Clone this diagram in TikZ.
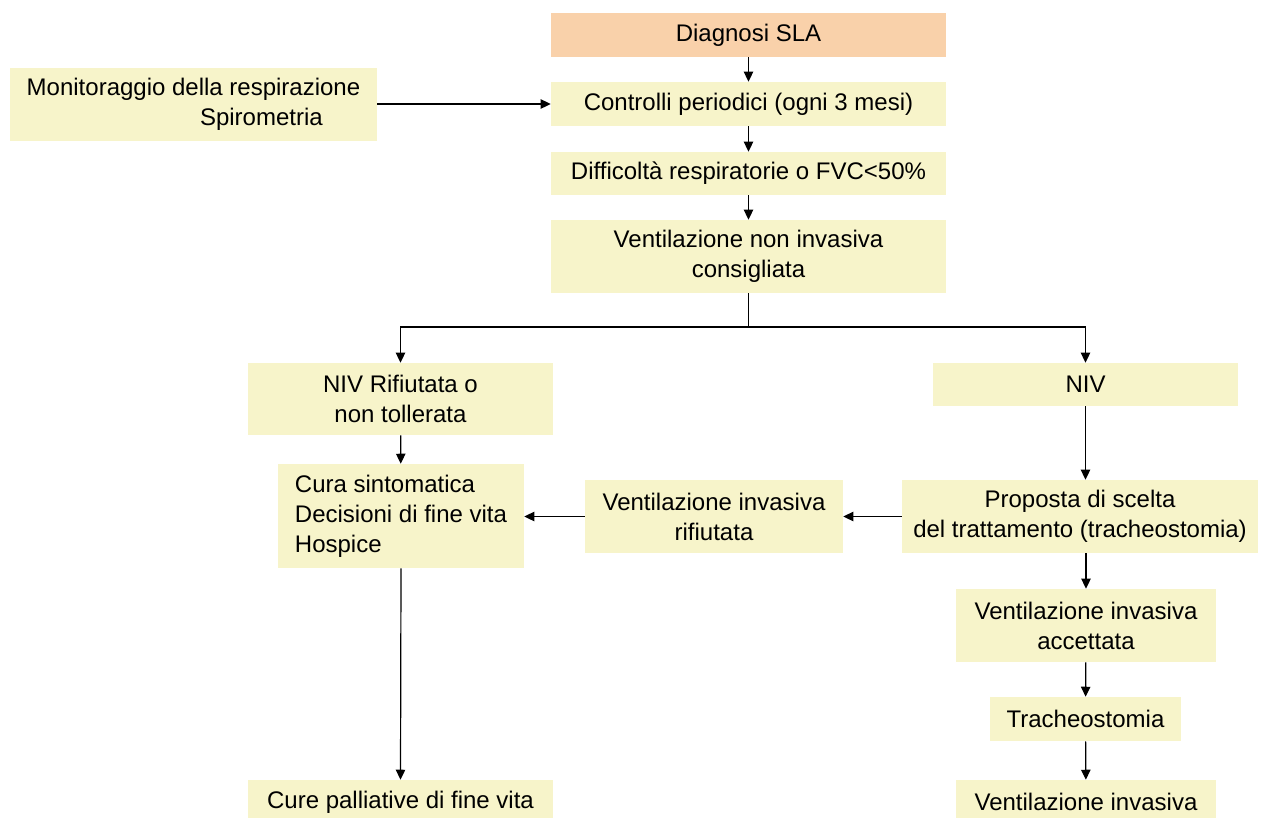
\documentclass[tikz,border=0pt]{standalone}
\usepackage{fontspec}
\setmainfont{Liberation Sans}
\usetikzlibrary{arrows.meta}
\definecolor{boxfill}{HTML}{F7F4CA}
\definecolor{orangefill}{HTML}{F9D1AA}
\tikzset{
  box/.style={fill=boxfill, inner sep=0pt, align=center,
    font=\fontsize{18pt}{22.5pt}\selectfont},
  arr/.style={-{Triangle[length=7.5pt,width=7pt]}, line width=0.9pt},
  ln/.style={line width=0.9pt}
}
\begin{document}
\begin{tikzpicture}[x=0.75pt,y=-0.75pt]
\clip (0,0) rectangle (1261,818);
\useasboundingbox (0,0) rectangle (1261,818);
\fill[white] (0,0) rectangle (1261,818);

\node[box, fill=orangefill, minimum width=395*0.75pt, minimum height=44*0.75pt] (diag) at (748.5,35) {Diagnosi SLA};
\node[box, align=left, minimum width=367*0.75pt, minimum height=73*0.75pt] (mon) at (193.5,104) {Monitoraggio della respirazione\\\hspace*{130pt}Spirometria};
\node[box, minimum width=395*0.75pt, minimum height=44*0.75pt] (contr) at (748.5,104) {Controlli periodici (ogni 3 mesi)};
\node[box, minimum width=395*0.75pt, minimum height=43*0.75pt] (diff) at (748.5,173.5) {Difficoltà respiratorie o FVC<50\%};
\node[box, minimum width=395*0.75pt, minimum height=73*0.75pt] (vnic) at (748.5,256.5) {Ventilazione non invasiva\\consigliata};
\node[box, minimum width=305*0.75pt, minimum height=72*0.75pt] (nivr) at (400.5,399) {NIV Rifiutata o\\non tollerata};
\node[box, minimum width=305*0.75pt, minimum height=43*0.75pt] (niv) at (1085.5,384.5) {NIV};
\node[box, align=left, minimum width=246*0.75pt, minimum height=104*0.75pt] (cura) at (401,516) {Cura sintomatica\\Decisioni di fine vita\\Hospice};
\node[box, minimum width=258*0.75pt, minimum height=73*0.75pt] (vir) at (714,516.5) {Ventilazione invasiva\\rifiutata};
\node[box, minimum width=356*0.75pt, minimum height=73*0.75pt] (prop) at (1080,516.5) {Proposta di scelta\\del trattamento (tracheostomia)};
\node[box, minimum width=260*0.75pt, minimum height=73*0.75pt] (via) at (1086,625.5) {Ventilazione invasiva\\accettata};
\node[box, minimum width=191*0.75pt, minimum height=44*0.75pt] (trach) at (1085.5,719) {Tracheostomia};
\node[box, minimum width=260*0.75pt, minimum height=44*0.75pt] (vi) at (1086,802) {Ventilazione invasiva};
\node[box, minimum width=305*0.75pt, minimum height=44*0.75pt] (cpal) at (400.5,802) {Cure palliative di fine vita};

\draw[arr] (diag) -- (contr);
\draw[arr] (mon.east) -- (contr.west);
\draw[arr] (contr) -- (diff);
\draw[arr] (diff) -- (vnic);
\coordinate (split) at (748.5,327);
\draw[ln] (vnic.south) -- (split);
\draw[arr] (split) -| (nivr.north);
\draw[arr] (split) -| (niv.north);
\draw[arr] (nivr) -- (cura);
\draw[arr] (niv) -- (niv.south |- prop.north);
\draw[arr] (prop.west) -- (vir.east);
\draw[arr] (vir.west) -- (cura.east |- vir.west);
\draw[arr] (cura.south) -- (cpal.north);
\draw[arr] (via.north |- prop.south) -- (via.north);
\draw[arr] (via) -- (trach);
\draw[arr] (trach) -- (vi);
\end{tikzpicture}
\end{document}
